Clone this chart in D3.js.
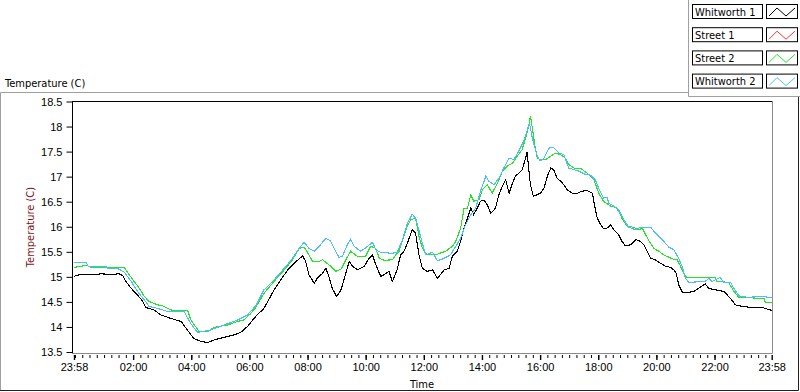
<!DOCTYPE html>
<html>
<head>
<meta charset="utf-8">
<script src="https://cdn.jsdelivr.net/npm/d3@7"></script>
<style>
  body { margin: 0; background: #fff; }
  svg { display: block; font-family: "DejaVu Sans Condensed", "DejaVu Sans", sans-serif; font-size: 11px; }
</style>
</head>
<body>
<svg width="800" height="392"></svg>
<script>
// readings as [minutes since the log started at 23:58, temperature in C]
const whitworth1 = [[0,15.01],[14,15.05],[35,15.04],[56,15.06],[76,15.05],[93,15.06],[101,15.02],[107,14.91],[118,14.77],[131,14.64],[142,14.51],[148,14.39],[165,14.34],[179,14.24],[200,14.17],[221,14.11],[234,13.94],[247,13.77],[262,13.71],[276,13.69],[289,13.74],[309,13.79],[330,13.84],[344,13.89],[358,14.01],[375,14.21],[392,14.37],[413,14.74],[427,14.94],[441,15.14],[454,15.27],[472,15.42],[478,15.31],[485,15.04],[496,14.87],[502,14.97],[513,15.07],[520,15.17],[526,15.01],[533,14.77],[542,14.61],[551,14.74],[561,15.07],[568,15.31],[575,15.21],[585,15.14],[599,15.21],[609,15.37],[616,15.44],[623,15.24],[633,15.01],[640,15.04],[650,15.11],[657,14.91],[667,15.14],[674,15.44],[681,15.51],[688,15.67],[698,15.94],[705,15.87],[712,15.44],[719,15.17],[729,15.11],[740,15.14],[750,14.97],[764,15.14],[774,15.17],[781,15.41],[791,15.51],[798,15.71],[805,15.97],[812,16.17],[819,16.37],[825,16.24],[832,16.37],[839,16.51],[846,16.53],[853,16.44],[860,16.27],[870,16.37],[877,16.64],[884,16.81],[891,16.94],[898,16.67],[905,16.87],[911,17.01],[918,17.07],[925,17.14],[932,17.37],[935,17.49],[939,17.11],[942,16.84],[948,16.61],[956,16.64],[963,16.67],[970,16.77],[977,17.01],[984,17.17],[990,17.14],[997,16.97],[1004,16.91],[1011,16.84],[1018,16.74],[1028,16.67],[1039,16.67],[1049,16.71],[1059,16.72],[1070,16.67],[1074,16.44],[1080,16.17],[1087,16.04],[1093,15.96],[1100,15.97],[1108,16.04],[1114,15.94],[1124,15.84],[1131,15.71],[1138,15.62],[1149,15.64],[1159,15.74],[1166,15.73],[1176,15.64],[1183,15.51],[1190,15.37],[1200,15.34],[1211,15.27],[1221,15.21],[1231,15.19],[1238,15.14],[1243,15.07],[1248,14.84],[1256,14.69],[1269,14.69],[1279,14.71],[1289,14.77],[1303,14.86],[1310,14.77],[1324,14.74],[1341,14.71],[1355,14.57],[1365,14.44],[1379,14.41],[1399,14.39],[1420,14.39],[1440,14.33]];

// nothing of Street 1 shows in the plot
const street1 = [];

const street2 = [[0,15.19],[14,15.21],[25,15.23],[35,15.19],[104,15.19],[114,15.04],[124,14.91],[135,14.77],[145,14.61],[155,14.51],[173,14.44],[183,14.42],[200,14.34],[221,14.32],[235,14.32],[241,14.14],[258,13.91],[276,13.91],[289,13.99],[317,14.04],[338,14.11],[351,14.14],[365,14.27],[375,14.39],[392,14.67],[413,14.91],[434,15.14],[451,15.34],[465,15.57],[475,15.59],[485,15.44],[492,15.31],[506,15.31],[513,15.34],[530,15.21],[540,15.11],[551,15.15],[561,15.34],[571,15.51],[585,15.41],[602,15.41],[612,15.61],[623,15.57],[630,15.37],[640,15.33],[657,15.34],[664,15.44],[671,15.51],[678,15.74],[688,16.01],[695,16.14],[705,16.17],[712,15.81],[719,15.57],[729,15.44],[746,15.44],[767,15.51],[781,15.61],[788,15.71],[798,15.97],[805,16.37],[812,16.37],[819,16.64],[825,16.51],[836,16.54],[843,16.74],[853,16.84],[863,16.67],[874,16.87],[884,17.11],[894,17.21],[905,17.27],[915,17.41],[925,17.54],[932,17.77],[939,18.04],[942,18.21],[946,17.97],[951,17.64],[956,17.37],[963,17.34],[973,17.34],[984,17.41],[994,17.47],[1004,17.44],[1014,17.37],[1021,17.24],[1032,17.17],[1045,17.17],[1059,17.07],[1073,16.94],[1083,16.67],[1093,16.51],[1108,16.41],[1118,16.39],[1124,16.31],[1131,16.17],[1142,16.01],[1155,15.99],[1166,15.94],[1173,15.97],[1180,15.84],[1187,15.71],[1197,15.57],[1207,15.51],[1217,15.44],[1228,15.39],[1238,15.35],[1245,15.34],[1252,15.21],[1258,15.07],[1265,14.99],[1324,14.99],[1326,14.91],[1351,14.89],[1362,14.71],[1372,14.59],[1424,14.57],[1427,14.49],[1440,14.49]];

const whitworth2 = [[0,15.29],[25,15.29],[29,15.21],[66,15.21],[70,15.17],[90,15.17],[104,15.09],[118,14.91],[131,14.71],[145,14.54],[155,14.41],[173,14.37],[193,14.31],[227,14.31],[241,14.07],[255,13.89],[282,13.94],[310,14.04],[338,14.14],[358,14.24],[375,14.42],[392,14.74],[413,14.94],[434,15.17],[451,15.37],[465,15.57],[475,15.69],[485,15.57],[496,15.51],[506,15.61],[520,15.77],[530,15.71],[540,15.51],[547,15.39],[554,15.41],[564,15.64],[571,15.75],[578,15.61],[592,15.51],[606,15.61],[616,15.69],[623,15.54],[633,15.49],[657,15.47],[667,15.49],[678,15.74],[688,16.07],[698,16.25],[705,16.17],[712,15.93],[719,15.67],[726,15.44],[740,15.49],[750,15.32],[764,15.37],[777,15.44],[788,15.61],[798,15.77],[808,16.04],[819,16.24],[829,16.37],[839,16.71],[850,17.01],[856,16.91],[867,16.84],[877,16.97],[887,17.17],[898,17.37],[908,17.34],[918,17.51],[928,17.71],[935,17.91],[940,18.07],[946,17.77],[955,17.44],[962,17.31],[970,17.37],[980,17.57],[990,17.58],[1001,17.47],[1011,17.44],[1021,17.17],[1032,17.14],[1042,17.11],[1056,17.04],[1066,17.03],[1076,16.94],[1083,16.77],[1093,16.57],[1100,16.59],[1104,16.47],[1114,16.41],[1124,16.34],[1135,16.14],[1145,15.99],[1159,15.94],[1169,15.99],[1190,15.99],[1197,15.91],[1207,15.81],[1217,15.71],[1228,15.59],[1238,15.54],[1248,15.37],[1255,15.21],[1262,14.97],[1269,14.89],[1303,14.91],[1310,14.97],[1317,14.91],[1334,14.99],[1341,14.89],[1355,14.89],[1362,14.77],[1372,14.62],[1392,14.59],[1413,14.61],[1440,14.59]];

const seriesNames = ["Whitworth 1", "Street 1", "Street 2", "Whitworth 2"];
const seriesData = [whitworth1, street1, street2, whitworth2];
const yTicks = [13.5, 14, 14.5, 15, 15.5, 16, 16.5, 17, 17.5, 18, 18.5];

const colors = ["#000000", "#ff3333", "#22e622", "#4dbbff"];

const svg = d3.select("svg");
const plot = {left: 72, right: 772, top: 101, bottom: 353};

const start = new Date(2000, 0, 1, 23, 58);
const end = d3.timeMinute.offset(start, 24 * 60);

const x = d3.scaleTime().domain([start, end]).range([74, 771.7]);
const y = d3.scaleLinear().domain([13.5, 18.5]).range([352, 101.5]);

// frames
svg.append("path").attr("d", "M0.5,391 V92.5 H688").attr("fill", "none").attr("stroke", "#a0a0a0");
svg.append("path").attr("d", "M0,390.5 H798.5 V96").attr("fill", "none").attr("stroke", "#202020");
svg.append("path").attr("d", "M688.5,0 V96.5 H800").attr("fill", "none").attr("stroke", "#a0a0a0");

// plot box
svg.append("rect").attr("x", plot.left).attr("y", plot.top)
  .attr("width", plot.right - plot.left).attr("height", plot.bottom - plot.top)
  .attr("fill", "#fff");
svg.append("path").attr("d", `M${plot.left},${plot.top + 0.5} H${plot.right}`).attr("stroke", "#000");
svg.append("path").attr("d", `M${plot.right + 0.5},${plot.top} V${plot.bottom + 0.5} H${plot.left}`)
  .attr("fill", "none").attr("stroke", "#8c8c8c");

svg.append("clipPath").attr("id", "clip").append("rect")
  .attr("x", plot.left + 1).attr("y", plot.top + 1)
  .attr("width", plot.right - plot.left - 1).attr("height", plot.bottom - plot.top - 1);

const line = d3.line()
  .x(d => x(d3.timeMinute.offset(start, d[0])))
  .y(d => y(d[1]));

svg.append("g").attr("clip-path", "url(#clip)")
  .selectAll("path")
  .data(seriesData)
  .join("path")
  .attr("fill", "none")
  .attr("stroke", (d, i) => colors[i])
  .attr("stroke-width", 1.1)
  .attr("shape-rendering", "crispEdges")
  .attr("d", d => d.length ? line(d) : null);

// y axis
const yAxis = svg.append("g")
  .attr("transform", `translate(${plot.left + 0.5},0)`)
  .call(d3.axisLeft(y).tickValues(yTicks).tickFormat(d3.format("")).tickSize(6).tickSizeOuter(0).tickPadding(4));
yAxis.select(".domain").attr("d", `M0,${plot.top} V${plot.bottom}`);
yAxis.selectAll("text").attr("fill", "#000").style("font-size", "11px").style("font-family", null);

// x axis: minor ticks every 15 min, labelled every 2 h plus both ends
const minorTicks = d3.timeMinute.every(15).range(start, end);
const xMinor = svg.append("g")
  .attr("transform", `translate(0,${plot.bottom + 2})`)
  .call(d3.axisBottom(x).tickValues(minorTicks).tickFormat("").tickSize(3).tickSizeOuter(0));
xMinor.select(".domain").remove();

const majorTicks = [start].concat(d3.timeHour.every(2).range(d3.timeHour.offset(start, 1), end), [end]);
const xMajor = svg.append("g")
  .attr("transform", `translate(0,${plot.bottom + 2})`)
  .call(d3.axisBottom(x).tickValues(majorTicks).tickFormat(d3.timeFormat("%H:%M")).tickSize(5).tickSizeOuter(0).tickPadding(3));
xMajor.select(".domain").remove();
xMajor.selectAll("line").attr("stroke-width", 1.4);
xMajor.selectAll("text").attr("fill", "#000").style("font-size", "11px").style("font-family", null);

// titles
svg.append("text").attr("x", 5).attr("y", 87).text("Temperature (C)");
svg.append("text")
  .attr("transform", `translate(34,${(plot.top + plot.bottom) / 2}) rotate(-90)`)
  .attr("text-anchor", "middle").attr("fill", "#7a1515")
  .text("Temperature (C)");
svg.append("text").attr("x", (plot.left + plot.right) / 2).attr("y", 388)
  .attr("text-anchor", "middle").text("Time");

// legend
const legend = svg.append("g").selectAll("g")
  .data(seriesNames)
  .join("g")
  .attr("transform", (d, i) => `translate(0,${4 + i * 23.2})`);

legend.append("rect").attr("x", 692.5).attr("y", 0.5).attr("width", 70).attr("height", 14)
  .attr("fill", "#fff").attr("stroke", "#000");
legend.append("text").attr("x", 695).attr("y", 11.5).text(d => d);
legend.append("rect").attr("x", 766.5).attr("y", 0.5).attr("width", 31).attr("height", 14)
  .attr("fill", "#fff").attr("stroke", "#000");
legend.append("path")
  .attr("d", "M769,12 L777,4 L786,12 L795,4")
  .attr("fill", "none")
  .attr("stroke", (d, i) => colors[i]);
</script>
</body>
</html>
